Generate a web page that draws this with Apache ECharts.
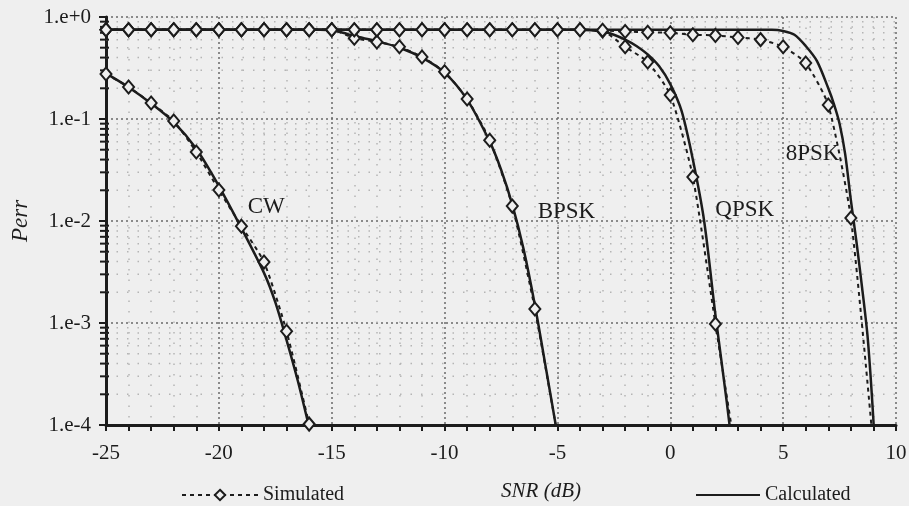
<!DOCTYPE html>
<html><head><meta charset="utf-8">
<script src="https://cdn.jsdelivr.net/npm/echarts@6/dist/echarts.min.js"></script>
<style>html,body{margin:0;padding:0;background:#efefef}#c{width:909px;height:506px}</style>
</head><body><div id="c"></div>
<script>
// ---- Simulated (markers every 1 dB) ----
const cwSimSNR = [-25,-24,-23,-22,-21,-20,-19,-18,-17,-16];
const cwSim    = [0.276,0.206,0.1435,0.0955,0.0475,0.0201,0.0089,0.00396,0.00083,0.000102];

const bpskSimSNR = [-25,-24,-23,-22,-21,-20,-19,-18,-17,-16,-15,-14,-13,-12,-11,-10,-9,-8,-7,-6,-5];
const bpskSim    = [0.75,0.75,0.75,0.75,0.75,0.75,0.75,0.75,0.75,0.75,0.75,0.62,0.57,0.51,0.405,0.29,0.157,0.062,0.014,0.00137,0.00008];

const qpskSimSNR = [-25,-24,-23,-22,-21,-20,-19,-18,-17,-16,-15,-14,-13,-12,-11,-10,-9,-8,-7,-6,-5,-4,-3,-2,-1,0,1,2,3];
const qpskSim    = [0.75,0.75,0.75,0.75,0.75,0.75,0.75,0.75,0.75,0.75,0.75,0.75,0.75,0.75,0.75,0.75,0.75,0.75,0.75,0.75,0.75,0.75,0.73,0.51,0.362,0.172,0.027,0.00098,0.000038];

const psk8SimSNR = [-25,-24,-23,-22,-21,-20,-19,-18,-17,-16,-15,-14,-13,-12,-11,-10,-9,-8,-7,-6,-5,-4,-3,-2,-1,0,1,2,3,4,5,6,7,8,9];
const psk8Sim    = [0.75,0.75,0.75,0.75,0.75,0.75,0.75,0.75,0.75,0.75,0.75,0.75,0.75,0.75,0.75,0.75,0.75,0.75,0.75,0.75,0.75,0.75,0.74,0.72,0.71,0.70,0.67,0.66,0.63,0.60,0.51,0.354,0.137,0.0107,0.00006];

// ---- Calculated (solid curves) ----
const cwCalcSNR = [-25,-24,-23,-22,-21,-20,-19,-18,-17.5,-17,-16.5,-16];
const cwCalc    = [0.28,0.205,0.142,0.093,0.051,0.022,0.0085,0.0031,0.0016,0.00068,0.00027,0.000095];

const bpskCalcSNR = [-25,-15.5,-15,-14.5,-14,-13,-12,-11,-10,-9,-8,-7.5,-7,-6.5,-6,-5.5,-5];
const bpskCalc    = [0.75,0.75,0.74,0.70,0.65,0.58,0.50,0.40,0.285,0.155,0.06,0.032,0.0145,0.0053,0.0015,0.00035,0.00008];

const qpskCalcSNR = [-25,-4.5,-4,-3.5,-3,-2.5,-2,-1.5,-1,-0.5,0,0.5,1,1.5,2,2.5,3];
const qpskCalc    = [0.75,0.75,0.75,0.74,0.72,0.67,0.60,0.52,0.43,0.33,0.22,0.12,0.04,0.01,0.0012,0.00017,0.00002];

const psk8CalcSNR = [-25,4,4.5,5,5.5,6,6.5,7,7.25,7.5,7.75,8,8.25,8.5,8.75,9,9.25];
const psk8Calc    = [0.75,0.75,0.75,0.73,0.67,0.52,0.37,0.20,0.14,0.09,0.045,0.016,0.0062,0.0022,0.0007,0.00011,0.00001];

// ---- axis ticks ----
const yMinorTicks = [0.9,0.8,0.7,0.6,0.5,0.4,0.3,0.2,
  0.09,0.08,0.07,0.06,0.05,0.04,0.03,0.02,
  0.009,0.008,0.007,0.006,0.005,0.004,0.003,0.002,
  0.0009,0.0008,0.0007,0.0006,0.0005,0.0004,0.0003,0.0002];
const curveNames = ['CW','BPSK','QPSK','8PSK'];

const FONT = '"Liberation Serif","Times New Roman",serif';
const INK = '#1c1c1c';
const BG = '#efefef';

function pairs(xs, ys){ return xs.map((x,i)=>[x, ys[i]]); }

function simSeries(xs, ys){
  return { name:'Simulated', type:'line', data:pairs(xs,ys), smooth:0.2,
    symbol:'diamond', symbolSize:[11,13], showAllSymbol:true,
    lineStyle:{color:INK, width:2, type:[4,4]},
    itemStyle:{color:BG, borderColor:INK, borderWidth:2}, z:4 };
}
function calcSeries(xs, ys, label, coord){
  return { name:'Calculated', type:'line', data:pairs(xs,ys), smooth:0.3,
    symbol:'none', showSymbol:false,
    lineStyle:{color:INK, width:2.5}, itemStyle:{color:INK}, z:3,
    markPoint:{ symbol:'circle', symbolSize:1, silent:true,
      itemStyle:{color:'rgba(0,0,0,0)'},
      data:[{coord:coord, value:label}],
      label:{show:true, position:'inside', formatter:label, fontFamily:FONT, fontSize:23, color:INK} } };
}

const chart = echarts.init(document.getElementById('c'), null, {renderer:'canvas'});
const option = {
  backgroundColor: BG,
  animation:false,
  grid:{left:106, right:13, top:17, bottom:81, containLabel:false, outerBoundsMode:'none'},
  legend:[
    { data:[{name:'Simulated'}], left:176, top:480, itemWidth:76, itemHeight:13, itemGap:4,
      textStyle:{fontFamily:FONT, fontSize:20, color:INK} },
    { data:[{name:'Calculated', itemStyle:{opacity:0}}], left:690, top:480, itemWidth:64, itemHeight:13,
      textStyle:{fontFamily:FONT, fontSize:20, color:INK} }
  ],
  xAxis:{
    type:'value', min:-25, max:10, interval:5,
    name:'SNR (dB)', nameLocation:'middle', nameGap:56,
    nameTextStyle:{fontFamily:FONT, fontSize:21, fontStyle:'italic', color:INK, padding:[0,0,0,80]},
    axisLine:{onZero:false, lineStyle:{color:INK, width:3}},
    axisTick:{length:6, lineStyle:{color:INK, width:2}},
    minorTick:{show:true, splitNumber:5, length:6, lineStyle:{color:INK, width:2}},
    axisLabel:{fontFamily:FONT, fontSize:21, color:INK, margin:18},
    splitLine:{show:true, lineStyle:{color:'#6a6a6a', width:1.5, type:[2,3]}},
    minorSplitLine:{show:true, lineStyle:{color:'#b5b5b5', width:1.5, type:[1.5,9]}}
  },
  yAxis:{
    type:'log', logBase:10, min:0.0001, max:1,
    name:'Perr', nameLocation:'middle', nameGap:69, nameRotate:90,
    nameTextStyle:{fontFamily:FONT, fontSize:23, fontStyle:'italic', color:INK},
    axisLine:{onZero:false, lineStyle:{color:INK, width:3}},
    axisTick:{length:7, lineStyle:{color:INK, width:2}},
    axisLabel:{fontFamily:FONT, fontSize:21, color:INK, margin:15,
      formatter:function(v){ const e=Math.round(Math.log10(v)); return '1.e'+(e>=0?'+':'')+e; }},
    splitLine:{show:true, lineStyle:{color:'#6a6a6a', width:1.5, type:[2,3]}}
  },
  series:[
    {
      name:'minor', type:'custom', silent:true, z:1,
      data:yMinorTicks.map(v=>[-25, v]),
      renderItem:function(params, api){
        const p0 = api.coord([-25, api.value(1)]);
        const p1 = api.coord([10, api.value(1)]);
        return { type:'group', children:[
          { type:'line', shape:{x1:p0[0], y1:p0[1], x2:p1[0], y2:p1[1]},
            style:{stroke:'#b5b5b5', lineWidth:1.5, lineDash:[1.5,9]} },
          { type:'line', shape:{x1:p0[0]-6, y1:p0[1], x2:p0[0]+3, y2:p0[1]},
            style:{stroke:INK, lineWidth:2} }
        ]};
      }
    },
    calcSeries(cwCalcSNR, cwCalc, curveNames[0], [-17.9, 0.0138]),
    calcSeries(bpskCalcSNR, bpskCalc, curveNames[1], [-4.6, 0.0122]),
    calcSeries(qpskCalcSNR, qpskCalc, curveNames[2], [3.3, 0.0128]),
    calcSeries(psk8CalcSNR, psk8Calc, curveNames[3], [6.3, 0.045]),
    simSeries(cwSimSNR, cwSim),
    simSeries(bpskSimSNR, bpskSim),
    simSeries(qpskSimSNR, qpskSim),
    simSeries(psk8SimSNR, psk8Sim)
  ]
};
chart.setOption(option);
</script>
</body></html>
